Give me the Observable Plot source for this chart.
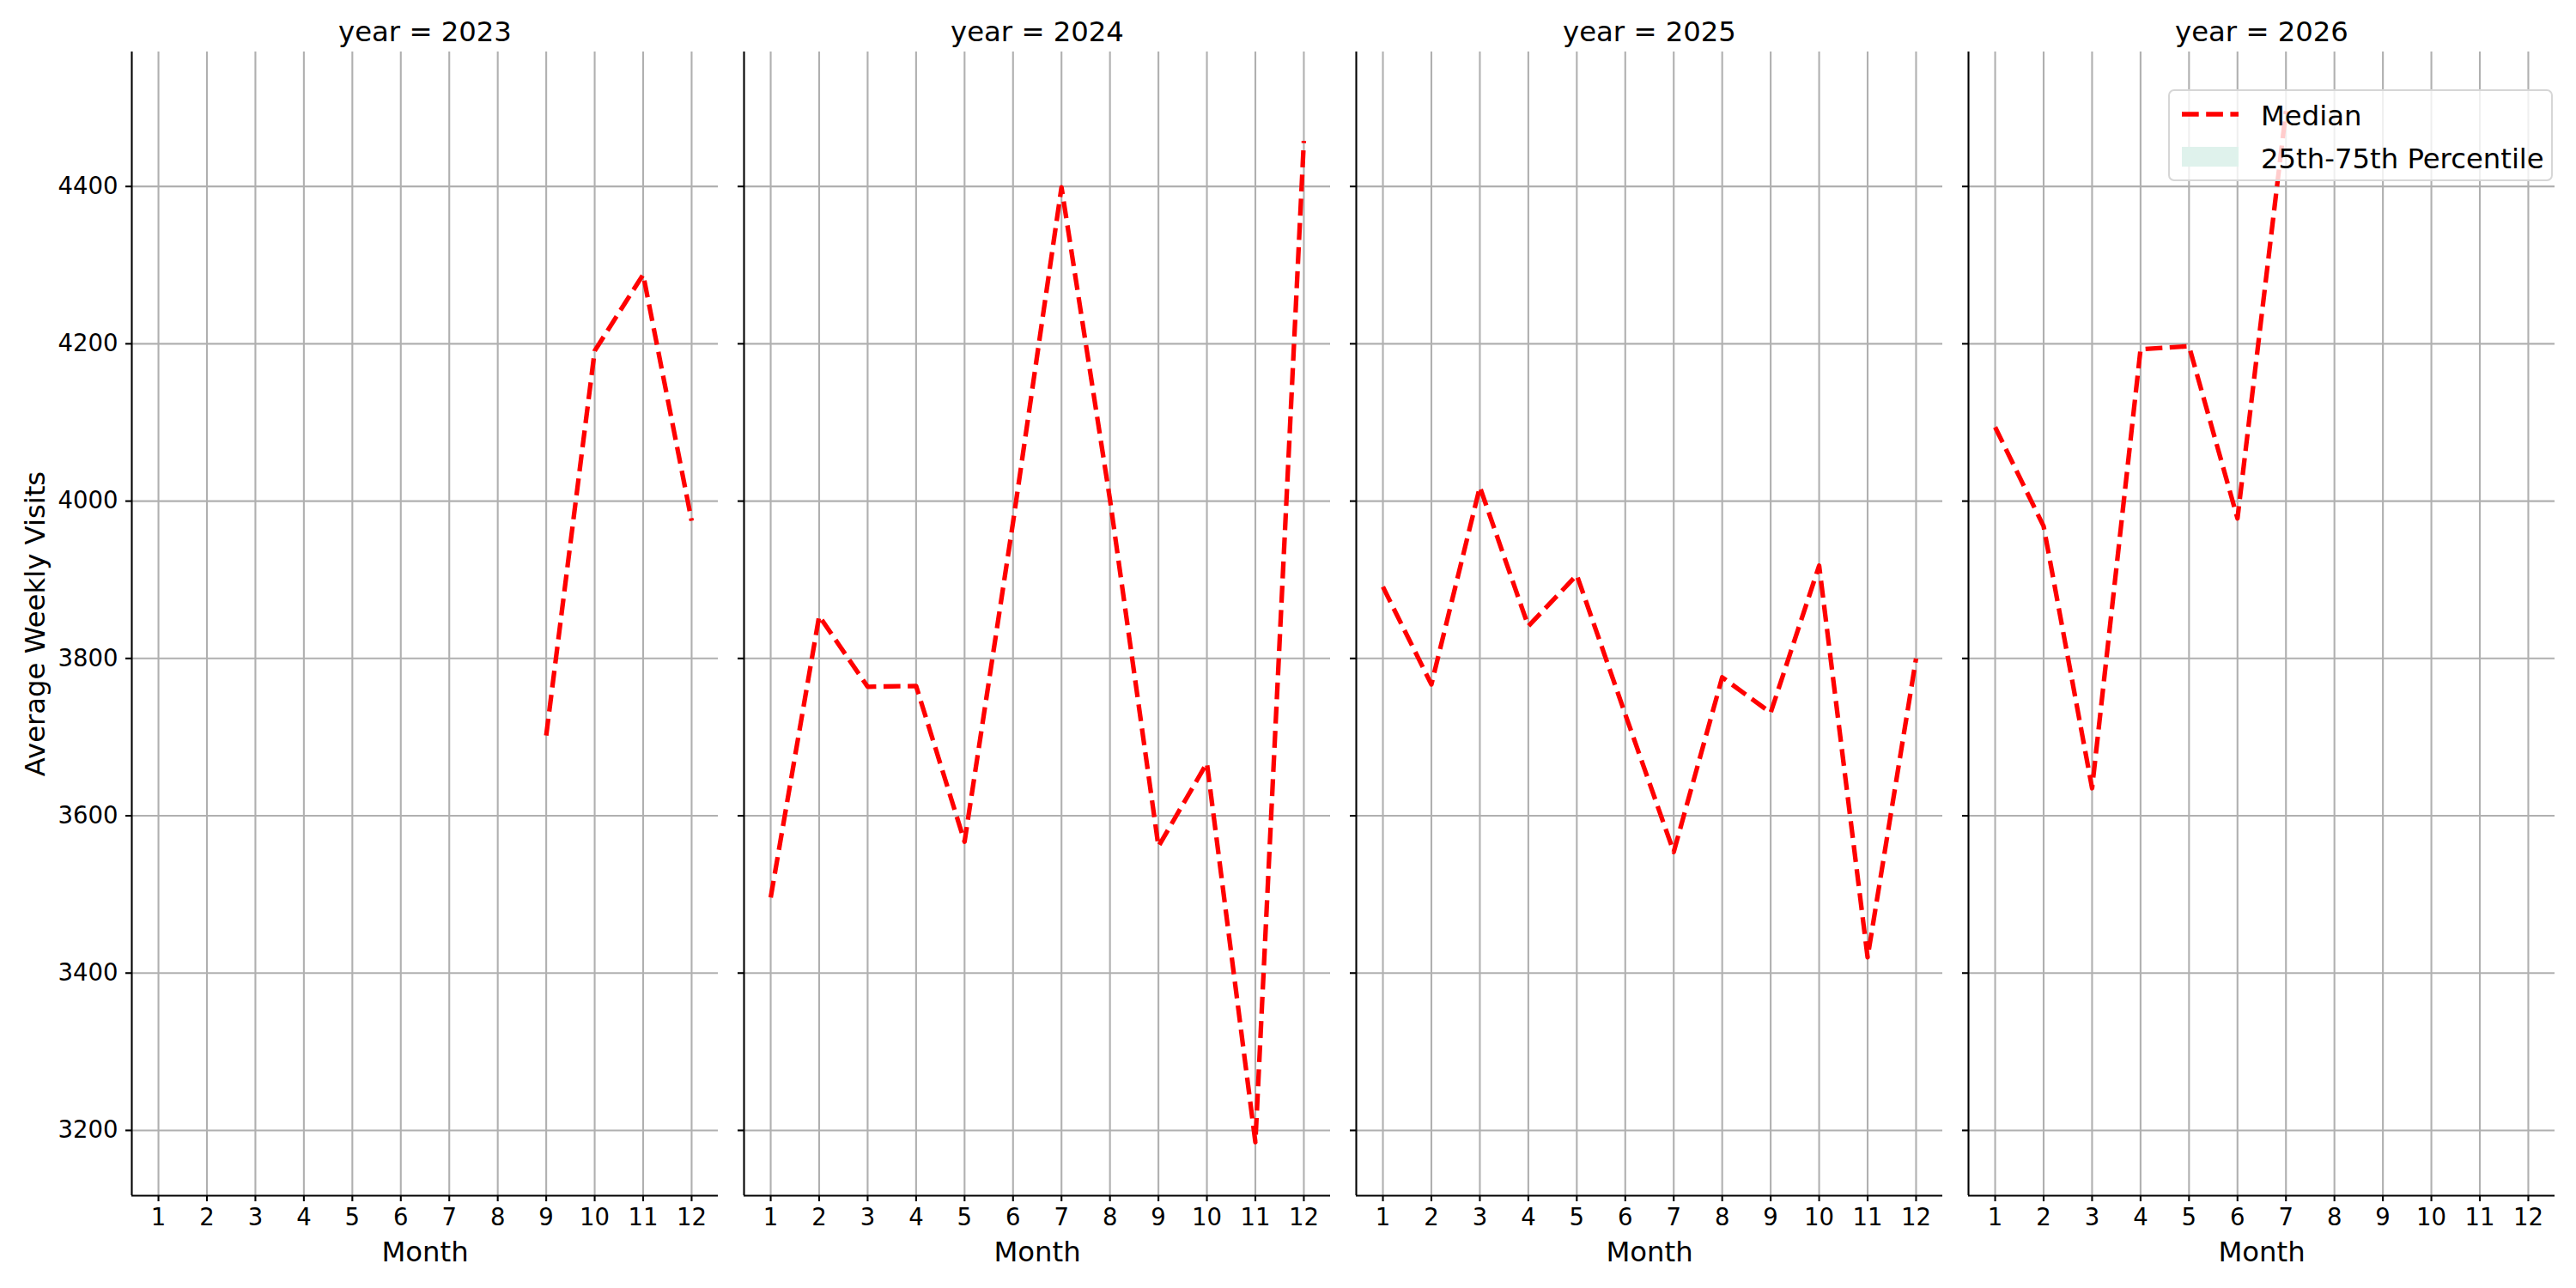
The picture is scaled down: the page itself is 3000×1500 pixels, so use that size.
<!DOCTYPE html>
<html>
<head>
<meta charset="utf-8">
<script src="https://cdn.jsdelivr.net/npm/d3@7"></script>
<script src="https://cdn.jsdelivr.net/npm/@observablehq/plot@0.6"></script>
<style>
  html, body { margin: 0; padding: 0; background: white; }
  #wrap { position: relative; width: 3000px; height: 1500px; font-family: "DejaVu Sans", sans-serif; }
  #legend { position: absolute; left: 2525px; top: 104px; width: 448px; height: 107px;
    border: 2px solid #d6d6d6; border-radius: 7px; background: rgba(255,255,255,0.8); box-sizing: border-box; }
  #legend svg { position: absolute; left: 0; top: 0; }
  .lt { position: absolute; left: 106px; font-size: 32.3px; color: black; line-height: 1; white-space: nowrap; }
</style>
</head>
<body>
<div id="wrap"></div>
<script>
// ---- data ----
const years = [2023, 2024, 2025, 2026];
const monthTicks = [1, 2, 3, 4, 5, 6, 7, 8, 9, 10, 11, 12];
const yTicks = [3200, 3400, 3600, 3800, 4000, 4200, 4400];

const months2023 = [9, 10, 11, 12];
const median2023 = [3702, 4191, 4288, 3975];
const months2024 = [1, 2, 3, 4, 5, 6, 7, 8, 9, 10, 11, 12];
const median2024 = [3496, 3854, 3764, 3765, 3567, 3973, 4399, 4002, 3561, 3667, 3185, 4458];
const months2025 = [1, 2, 3, 4, 5, 6, 7, 8, 9, 10, 11, 12];
const median2025 = [3891, 3767, 4018, 3841, 3906, 3729, 3554, 3776, 3731, 3918, 3420, 3800];
const months2026 = [1, 2, 3, 4, 5, 6, 7];
const median2026 = [4094, 3968, 3635, 4193, 4197, 3978, 4496];

const xDomain = [0.45, 12.55];
const yDomain = [3117, 4571];

// ---- table ----
const series = [
  [2023, months2023, median2023],
  [2024, months2024, median2024],
  [2025, months2025, median2025],
  [2026, months2026, median2026]
];
const table = series.flatMap(([year, ms, vs]) => ms.map((m, i) => ({year, month: m, value: vs[i]})));

const gridColor = "#b0b0b0";
const lw = 2.1;
const tickFont = 27.5;
const labelFont = 32.3;

const chart = Plot.plot({
  width: 3000,
  height: 1500,
  marginTop: 60,
  marginBottom: 108,
  marginLeft: 151,
  marginRight: 23,
  style: {fontFamily: "DejaVu Sans", fontSize: "27.5px", background: "white", color: "black", overflow: "visible"},
  fx: {domain: years, paddingInner: 0.042, paddingOuter: 0, axis: null, label: null},
  x: {type: "linear", domain: xDomain, label: null},
  y: {type: "linear", domain: yDomain, label: null},
  marks: [
    Plot.gridX(monthTicks, {stroke: gridColor, strokeOpacity: 1, strokeWidth: lw}),
    Plot.gridY(yTicks, {stroke: gridColor, strokeOpacity: 1, strokeWidth: lw}),
    Plot.ruleX([xDomain[0]], {stroke: "black", strokeWidth: lw}),
    Plot.ruleY([yDomain[0]], {stroke: "black", strokeWidth: lw}),
    // tick marks only (labels drawn as text marks below)
    Plot.axisX(monthTicks, {tickSize: 7, strokeWidth: lw, label: null, fill: "none"}),
    Plot.axisY(yTicks, {tickSize: 7, strokeWidth: lw, label: null, fill: "none", facetAnchor: null}),
    // tick labels
    Plot.text(monthTicks, {x: d => d, text: d => String(d), frameAnchor: "bottom", textAnchor: "middle", lineAnchor: "top", dy: 15, fontSize: tickFont}),
    Plot.text(yTicks, {y: d => d, fx: () => years[0], text: d => String(d), frameAnchor: "left", textAnchor: "end", lineAnchor: "middle", dx: -16, fontSize: tickFont}),
    Plot.line(table, {x: "month", y: "value", fx: "year", stroke: "red", strokeWidth: 5.3,
      strokeDasharray: "19.7,8.5", strokeLinecap: "butt", strokeLinejoin: "round"}),
    Plot.text(years, {fx: d => d, text: d => `year = ${d}`, frameAnchor: "top", textAnchor: "middle", lineAnchor: "bottom", dy: -13, fontSize: labelFont}),
    Plot.text(years, {fx: d => d, text: () => "Month", frameAnchor: "bottom", textAnchor: "middle", lineAnchor: "bottom", dy: 76, fontSize: labelFont}),
    Plot.text([years[0]], {fx: d => d, text: () => "Average Weekly Visits", frameAnchor: "left", textAnchor: "middle", lineAnchor: "bottom", rotate: -90, dx: -102, fontSize: labelFont})
  ]
});

const wrap = document.getElementById("wrap");
wrap.appendChild(chart);

// ---- legend ----
const legend = document.createElement("div");
legend.id = "legend";
legend.innerHTML = `
  <svg width="448" height="107">
    <line x1="14" x2="80" y1="27" y2="27" stroke="red" stroke-width="5.3" stroke-dasharray="19.7,8.5"></line>
    <rect x="14" y="65" width="66" height="23" fill="#dff2ec"></rect>
  </svg>
  <div class="lt" style="top:13px">Median</div>
  <div class="lt" style="top:63px">25th-75th Percentile</div>`;
wrap.appendChild(legend);
</script>
</body>
</html>
